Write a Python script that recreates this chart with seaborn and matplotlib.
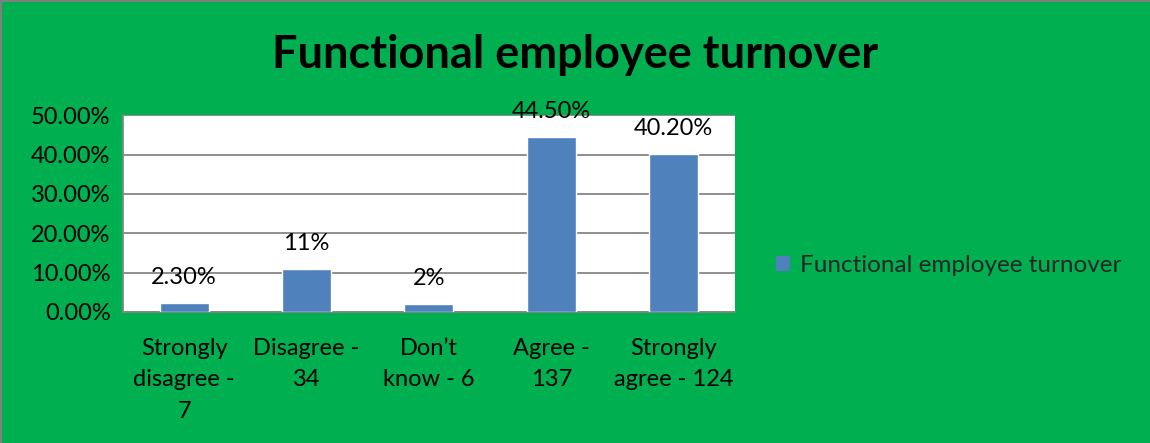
import matplotlib
matplotlib.use("Agg")
import matplotlib.pyplot as plt
import matplotlib.lines as mlines
import matplotlib.patches as mpatches
import seaborn as sns
import pandas as pd

# Survey responses for functional employee turnover
categories = [
    "Strongly\ndisagree -\n7",
    "Disagree -\n34",
    "Don\u2019t\nknow - 6",
    "Agree -\n137",
    "Strongly\nagree - 124",
]
shares = [2.3, 11.0, 2.0, 44.5, 40.2]
value_labels = ["2.30%", "11%", "2%", "44.50%", "40.20%"]
y_ticks = [0, 10, 20, 30, 40, 50]
y_tick_labels = ["0.00%", "10.00%", "20.00%", "30.00%", "40.00%", "50.00%"]
series_name = "Functional employee turnover"

GREEN = "#00B050"
BLUE = "#4F81BD"
GRID = "#868686"
FS = 17

sns.set_theme(style="white")
plt.rcParams["font.family"] = ["Lato", "DejaVu Sans"]

df = pd.DataFrame({"category": categories, "share": shares})

fig = plt.figure(figsize=(11.5, 4.43), dpi=100, facecolor=GREEN)
ax = fig.add_axes([0.107, 0.296, 0.532, 0.444])
ax.set_facecolor("white")

sns.barplot(data=df, x="category", y="share", color=BLUE, width=0.4,
            saturation=1, ax=ax, zorder=3)

ax.set_xlim(-0.5, len(categories) - 0.5)
ax.set_ylim(0, 50)
ax.set_yticks(y_ticks)
ax.set_yticklabels(y_tick_labels, fontsize=FS, color="black")
ax.yaxis.grid(True, color=GRID, linewidth=1.3, zorder=0)
ax.tick_params(axis="y", length=5, width=1, color=GRID, pad=4)

# category labels centred, separators as ticks between categories
ax.set_xticks(range(len(categories)))
ax.set_xticklabels(categories, fontsize=FS, color="black", linespacing=1.6)
ax.tick_params(axis="x", which="major", length=0, pad=19)
ax.set_xticks([i - 0.5 for i in range(len(categories) + 1)], minor=True)
ax.tick_params(axis="x", which="minor", length=7, width=1, color=GRID)
ax.set_xlabel("")
ax.set_ylabel("")

for side in ("top", "right"):
    ax.spines[side].set_visible(False)
for side in ("left", "bottom"):
    ax.spines[side].set_color(GRID)
    ax.spines[side].set_linewidth(1.3)

# value labels above each bar
for i, (v, lab) in enumerate(zip(shares, value_labels)):
    ax.annotate(lab, (i, v), xytext=(0, 10.5), textcoords="offset points",
                ha="center", va="bottom", fontsize=FS, color="black",
                annotation_clip=False, zorder=5)

fig.text(0.5, 0.875, "Functional employee turnover", ha="center",
         va="center", fontsize=32.5, fontweight="bold", color="black")

handle = mpatches.Patch(facecolor=BLUE, edgecolor="none", label=series_name)
fig.legend(handles=[handle], loc="center left", bbox_to_anchor=(0.666, 0.40),
           frameon=False, fontsize=FS + 0.5, handlelength=0.6, handleheight=0.6,
           handletextpad=0.4, borderaxespad=0)

# thin frame along the top and left edges
fig.add_artist(mlines.Line2D([0, 1], [0.998, 0.998], color="#7F7F7F",
                             linewidth=1.5, transform=fig.transFigure))
fig.add_artist(mlines.Line2D([0.001, 0.001], [0, 1], color="#7F7F7F",
                             linewidth=1.5, transform=fig.transFigure))

fig.savefig("out.png", dpi=100, facecolor=GREEN)
